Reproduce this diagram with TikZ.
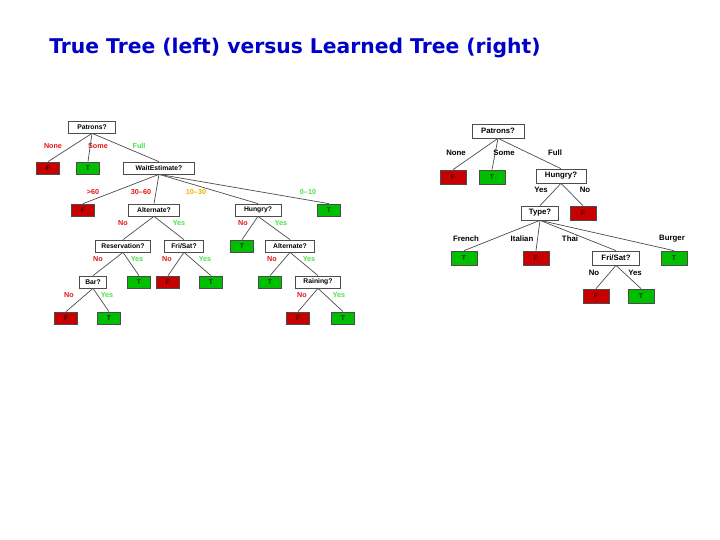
\documentclass[tikz,border=0pt]{standalone}
\usepackage{fontspec}
\setmainfont{Liberation Sans}
\newfontfamily\titlefont{DejaVu Sans}
\usetikzlibrary{positioning}
\definecolor{TitleBlue}{RGB}{0,0,200}
\definecolor{LeafRed}{RGB}{200,0,0}
\definecolor{LeafGreen}{RGB}{0,190,0}
\definecolor{LabelRed}{RGB}{225,20,20}
\definecolor{LabelGreen}{RGB}{70,225,70}
\definecolor{LabelOrange}{RGB}{245,170,0}
\definecolor{EdgeInk}{gray}{0.3}

\begin{document}
\begin{tikzpicture}[
  x=1pt,y=-1pt,
  test/.style={draw=EdgeInk,fill=white,line width=0.7pt,inner xsep=9pt,inner ysep=0pt,
               minimum height=12pt,font=\bfseries\fontsize{6.8}{7}\selectfont},
  leaf/.style={draw=EdgeInk,line width=0.7pt,inner sep=0pt,minimum width=23pt,
               minimum height=12pt,font=\bfseries\fontsize{6.8}{7}\selectfont},
  fleaf/.style={leaf,fill=LeafRed,text=black!70!LeafRed},
  tleaf/.style={leaf,fill=LeafGreen,text=black!70!LeafGreen},
  lab/.style={font=\bfseries\fontsize{7.2}{8}\selectfont,inner sep=0pt},
  nolab/.style={lab,text=LabelRed},
  yeslab/.style={lab,text=LabelGreen},
  midlab/.style={lab,text=LabelOrange},
  bigtest/.style={test,minimum height=14pt,font=\bfseries\fontsize{7.8}{8}\selectfont},
  bigleaf/.style={minimum width=26pt,minimum height=14pt},
  blab/.style={lab,font=\bfseries\fontsize{7.8}{8}\selectfont},
  edge/.style={draw=EdgeInk,line width=0.7pt},
]
  \useasboundingbox (0,0) rectangle (720,540);
  \node[font=\titlefont\bfseries\fontsize{20.3}{24}\selectfont,text=TitleBlue] (title) at (295,48)
    {True Tree (left) versus Learned Tree (right)};

  % true tree
  \node[test] (patrons) at (92,127) {Patrons?};
  \node[fleaf] (none) at (48,168) {F};
  \node[tleaf] (some) at (88,168) {T};
  \node[test,inner xsep=12pt] (wait) at (159,168) {WaitEstimate?};
  \node[nolab] at (53,146) {None};
  \node[nolab] at (98,146) {Some};
  \node[yeslab] at (139,146) {Full};

  \node[fleaf] (over60) at (83,210) {F};
  \node[test] (alt) at (154,210) {Alternate?};
  \node[test] (hungry) at (258,210) {Hungry?};
  \node[tleaf] (under10) at (329,210) {T};
  \node[nolab] at (93,192) {>60};
  \node[nolab] at (141,192) {30--60};
  \node[midlab] at (196,192) {10--30};
  \node[yeslab] at (308,192) {0--10};

  \node[test,inner xsep=6pt] (reserv) at (123,246) {Reservation?};
  \node[test,inner xsep=7pt] (frisat) at (184,246) {Fri/Sat?};
  \node[tleaf] (hungryno) at (242,246) {T};
  \node[test,inner xsep=8pt] (alttwo) at (290,246) {Alternate?};
  \node[nolab] at (123,223) {No};
  \node[yeslab] at (179,223) {Yes};
  \node[nolab] at (243,223) {No};
  \node[yeslab] at (281,223) {Yes};

  \node[test,inner xsep=6pt] (bar) at (93,282) {Bar?};
  \node[tleaf] (reservyes) at (139,282) {T};
  \node[fleaf] (frisatno) at (168,282) {F};
  \node[tleaf] (frisatyes) at (211,282) {T};
  \node[tleaf] (alttwono) at (270,282) {T};
  \node[test,inner xsep=8pt] (rain) at (318,282) {Raining?};
  \node[nolab] at (98,259) {No};
  \node[yeslab] at (137,259) {Yes};
  \node[nolab] at (167,259) {No};
  \node[yeslab] at (205,259) {Yes};
  \node[nolab] at (272,259) {No};
  \node[yeslab] at (309,259) {Yes};

  \node[fleaf] (barno) at (66,318) {F};
  \node[tleaf] (baryes) at (109,318) {T};
  \node[fleaf] (rainno) at (298,318) {F};
  \node[tleaf] (rainyes) at (343,318) {T};
  \node[nolab] at (69,295) {No};
  \node[yeslab] at (107,295) {Yes};
  \node[nolab] at (302,295) {No};
  \node[yeslab] at (339,295) {Yes};

  \foreach \p/\c in {patrons/none,patrons/some,patrons/wait,
                     wait/over60,wait/alt,wait/hungry,wait/under10,
                     alt/reserv,alt/frisat,hungry/hungryno,hungry/alttwo,
                     reserv/bar,reserv/reservyes,frisat/frisatno,frisat/frisatyes,
                     alttwo/alttwono,alttwo/rain,
                     bar/barno,bar/baryes,rain/rainno,rain/rainyes}
    \draw[edge] (\p.south) -- (\c.north);

  % learned tree
  \node[bigtest] (lpatrons) at (498,131) {Patrons?};
  \node[fleaf,bigleaf] (lnone) at (453,177) {F};
  \node[tleaf,bigleaf] (lsome) at (492,177) {T};
  \node[bigtest] (lhungry) at (561,176) {Hungry?};
  \node[blab] at (456,153) {None};
  \node[blab] at (504,153) {Some};
  \node[blab] at (555,153) {Full};

  \node[bigtest,inner xsep=7pt] (ltype) at (540,213) {Type?};
  \node[fleaf,bigleaf] (lhungryno) at (583,213) {F};
  \node[blab] at (541,190) {Yes};
  \node[blab] at (585,190) {No};

  \node[tleaf,bigleaf] (lfrench) at (464,258) {T};
  \node[fleaf,bigleaf] (litalian) at (536,258) {F};
  \node[bigtest] (lfrisat) at (616,258) {Fri/Sat?};
  \node[tleaf,bigleaf] (lburger) at (674,258) {T};
  \node[blab] at (466,239) {French};
  \node[blab] at (522,239) {Italian};
  \node[blab] at (570,239) {Thai};
  \node[blab] at (672,239) {Burger};

  \node[fleaf,bigleaf] (lfrisatno) at (596,296) {F};
  \node[tleaf,bigleaf] (lfrisatyes) at (641,296) {T};
  \node[blab] at (594,273) {No};
  \node[blab] at (635,273) {Yes};

  \foreach \p/\c in {lpatrons/lnone,lpatrons/lsome,lpatrons/lhungry,
                     lhungry/ltype,lhungry/lhungryno,
                     ltype/lfrench,ltype/litalian,ltype/lfrisat,ltype/lburger,
                     lfrisat/lfrisatno,lfrisat/lfrisatyes}
    \draw[edge] (\p.south) -- (\c.north);
\end{tikzpicture}
\end{document}
